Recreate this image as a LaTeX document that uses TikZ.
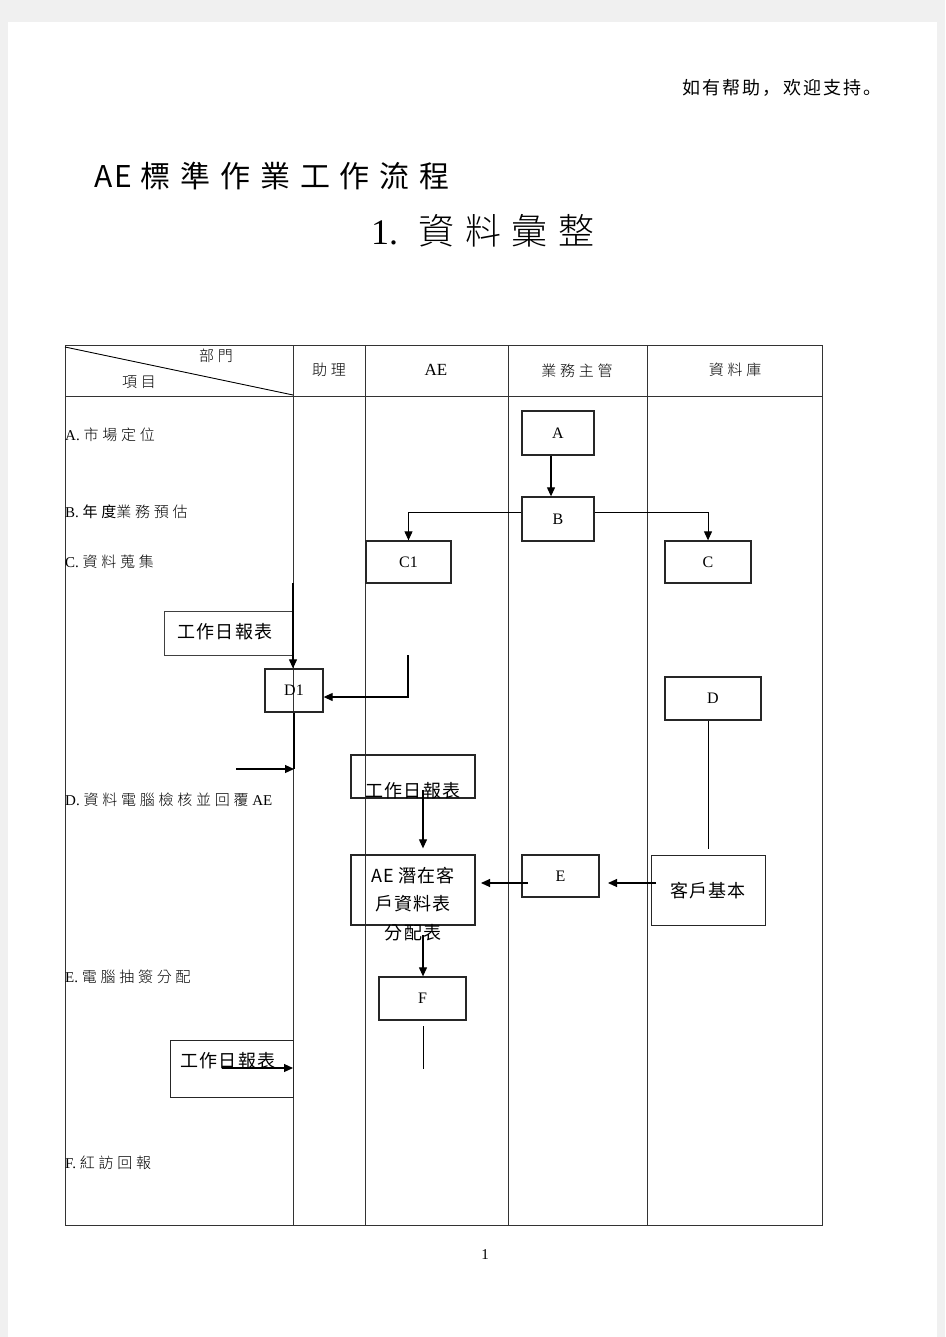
\documentclass[tikz,border=0pt]{standalone}
\usepackage{fontspec}
\setmainfont{Liberation Serif}
\newfontfamily\cjk{Noto Sans CJK TC}
\newfontfamily\cjkae[LetterSpace=8]{Noto Sans CJK TC}
\newfontfamily\cjkl{Noto Sans CJK TC Light}
\newfontfamily\cjkls[LetterSpace=25]{Noto Sans CJK TC Light}
\newfontfamily\cjklt[LetterSpace=30]{Noto Sans CJK TC Light}
\newfontfamily\cjks[LetterSpace=25]{Noto Sans CJK TC}
\newfontfamily\cjkt[LetterSpace=33]{Noto Sans CJK TC}
\newfontfamily\cjkbox[LetterSpace=6]{Noto Sans CJK TC}
\newfontfamily\cjksc[LetterSpace=12]{Noto Sans CJK SC}
\usetikzlibrary{arrows.meta}
\begin{document}
\begin{tikzpicture}[x=1pt,y=-1pt,
  grid/.style={line width=0.9pt,draw=black!80},
  box/.style={draw=black!85,line width=1.3pt,minimum width=#1,inner sep=0pt},
  arr/.style={line width=1.1pt,-{Triangle[length=9pt,width=8pt]}},
  ln/.style={line width=1.1pt},
  lbl/.style={anchor=west,inner sep=0pt,font=\fontsize{15}{16}\selectfont},
  hd/.style={inner sep=0pt,font=\cjkls\fontsize{15}{16}\selectfont},
  btxt/.style={font=\fontsize{16}{18}\selectfont},
  ctxt/.style={font=\cjkbox\fontsize{18}{28.5}\selectfont}]
\useasboundingbox (0,0) rectangle (945,1337);
\fill[black!6] (0,0) rectangle (945,1337);
\fill[white] (8,22) rectangle (937,1337);
% header texts
\node[font=\cjksc\fontsize{18}{20}\selectfont,inner sep=0pt] (help) at (782,88) {如有帮助，欢迎支持。};
\node[font=\fontsize{30}{32}\selectfont,anchor=west,inner sep=0pt] (title) at (94,176) {{\cjkae AE}\hspace{8pt}{\cjkt 標準作業工作流程}};
\node[font=\fontsize{36}{38}\selectfont,anchor=west,inner sep=0pt] (sub) at (371,231) {1.\hspace{20pt}{\cjklt 資料彙整}};
\node[font=\fontsize{15}{16}\selectfont,inner sep=0pt] (pg) at (485,1255) {1};
% table
\draw[grid] (65,345) rectangle (822,1225);
\draw[grid] (65,396) -- (822,396);
\foreach \x in {293,365,508,647} \draw[grid] (\x,345) -- (\x,1225);
\draw[line width=0.9pt] (65,347) -- (293,395);
\node[hd] (h1) at (216,356) {部門};
\node[hd] (h2) at (139,382) {項目};
\node[hd] (h3) at (329,370) {助理};
\node[inner sep=0pt,font=\fontsize{17}{18}\selectfont] (h4) at (436,370) {AE};
\node[hd] (h5) at (577,371) {業務主管};
\node[hd] (h6) at (735,370) {資料庫};
% row labels
\node[lbl] (la) at (65,435) {A. {\cjkls 市場定位}};
\node[lbl] (lb) at (65,512) {B. {\cjks 年度}{\cjkls 業務預估}};
\node[lbl] (lc) at (65,562) {C. {\cjkls 資料蒐集}};
\node[lbl] (ld) at (65,800) {D. {\cjkls 資料電腦檢核並回覆} AE};
\node[lbl] (le) at (65,977) {E. {\cjkls 電腦抽簽分配}};
\node[lbl] (lf) at (65,1163) {F. {\cjkls 紅訪回報}};
% boxes
\node[box=72pt,minimum height=44pt,btxt] (A) at (558,433) {A};
\node[box=72pt,minimum height=44pt,btxt] (B) at (558,519) {B};
\node[box=85pt,minimum height=42pt,btxt] (C1) at (408.5,562) {C1};
\node[box=86pt,minimum height=42pt,btxt] (C) at (708,562) {C};
\node[box=129pt,minimum height=44pt,draw=black!75,line width=1pt] (w1) at (228.5,633) {};
\node[ctxt] (w1t) at (225,632) {工作日報表};
\node[box=58pt,minimum height=43pt,btxt] (D1) at (294,690.5) {D1};
\node[box=96pt,minimum height=43pt,btxt] (D) at (713,698.5) {D};
\node[box=124pt,minimum height=43pt] (w2) at (413,776.5) {};
\node[ctxt] (w2t) at (413,791) {工作日報表};
\node[box=124pt,minimum height=70pt] (P) at (413,890) {};
\node[ctxt,align=center] (Pt) at (413,904) {AE 潛在客\\戶資料表\\分配表};
\node[box=77pt,minimum height=42pt,btxt] (E) at (560.5,876) {E};
\node[box=114pt,minimum height=70pt,line width=1pt] (K) at (708,890) {};
\node[ctxt] (Kt) at (708,891) {客戶基本};
\node[box=87pt,minimum height=43pt,btxt] (F) at (422.5,998.5) {F};
\node[box=123pt,minimum height=57pt,line width=1pt] (w3) at (231.5,1068.5) {};
\node[ctxt] (w3t) at (228,1061) {工作日報表};
% connectors
\draw[arr] ([xshift=-7pt]A.south) -- ([xshift=-7pt]B.north);
\draw[line width=1pt,-{Triangle[length=9pt,width=8pt]}] ([yshift=7pt]B.west) -| (C1.north);
\draw[line width=1pt,-{Triangle[length=9pt,width=8pt]}] ([yshift=7pt]B.east) -| (C.north);
\coordinate (t1) at (293,583);
\draw[arr] (t1) -- (D1.north -| t1);
\coordinate (t2) at (408,655);
\draw[arr] (t2) |- ([yshift=-6.5pt]D1.east);
\coordinate (t3) at (294,769);
\coordinate (t4) at (236,769);
\draw[ln] (D1.south) -- (t3);
\draw[arr] (t4) -- (t3);
\coordinate (t5) at (708,849);
\draw[line width=1pt] (D.south -| t5) -- (t5);
\coordinate (t6) at (423,790);
\draw[arr] (t6) -- ([xshift=10pt,yshift=6pt]P.north);
\coordinate (t7) at (656,883);
\coordinate (t8) at (608,883);
\draw[arr] (t7) -- (t8);
\coordinate (t9) at (528,883);
\coordinate (t10) at (481,883);
\draw[arr] (t9) -- (t10);
\coordinate (t11) at (423,935);
\draw[arr] (t11) -- (F.north -| t11);
\coordinate (t12) at (423,1026);
\coordinate (t13) at (423,1069);
\draw[line width=1pt] (t12) -- (t13);
\coordinate (t14) at (222,1068);
\coordinate (t15) at (293,1068);
\draw[arr] (t14) -- (t15);
\end{tikzpicture}
\end{document}
